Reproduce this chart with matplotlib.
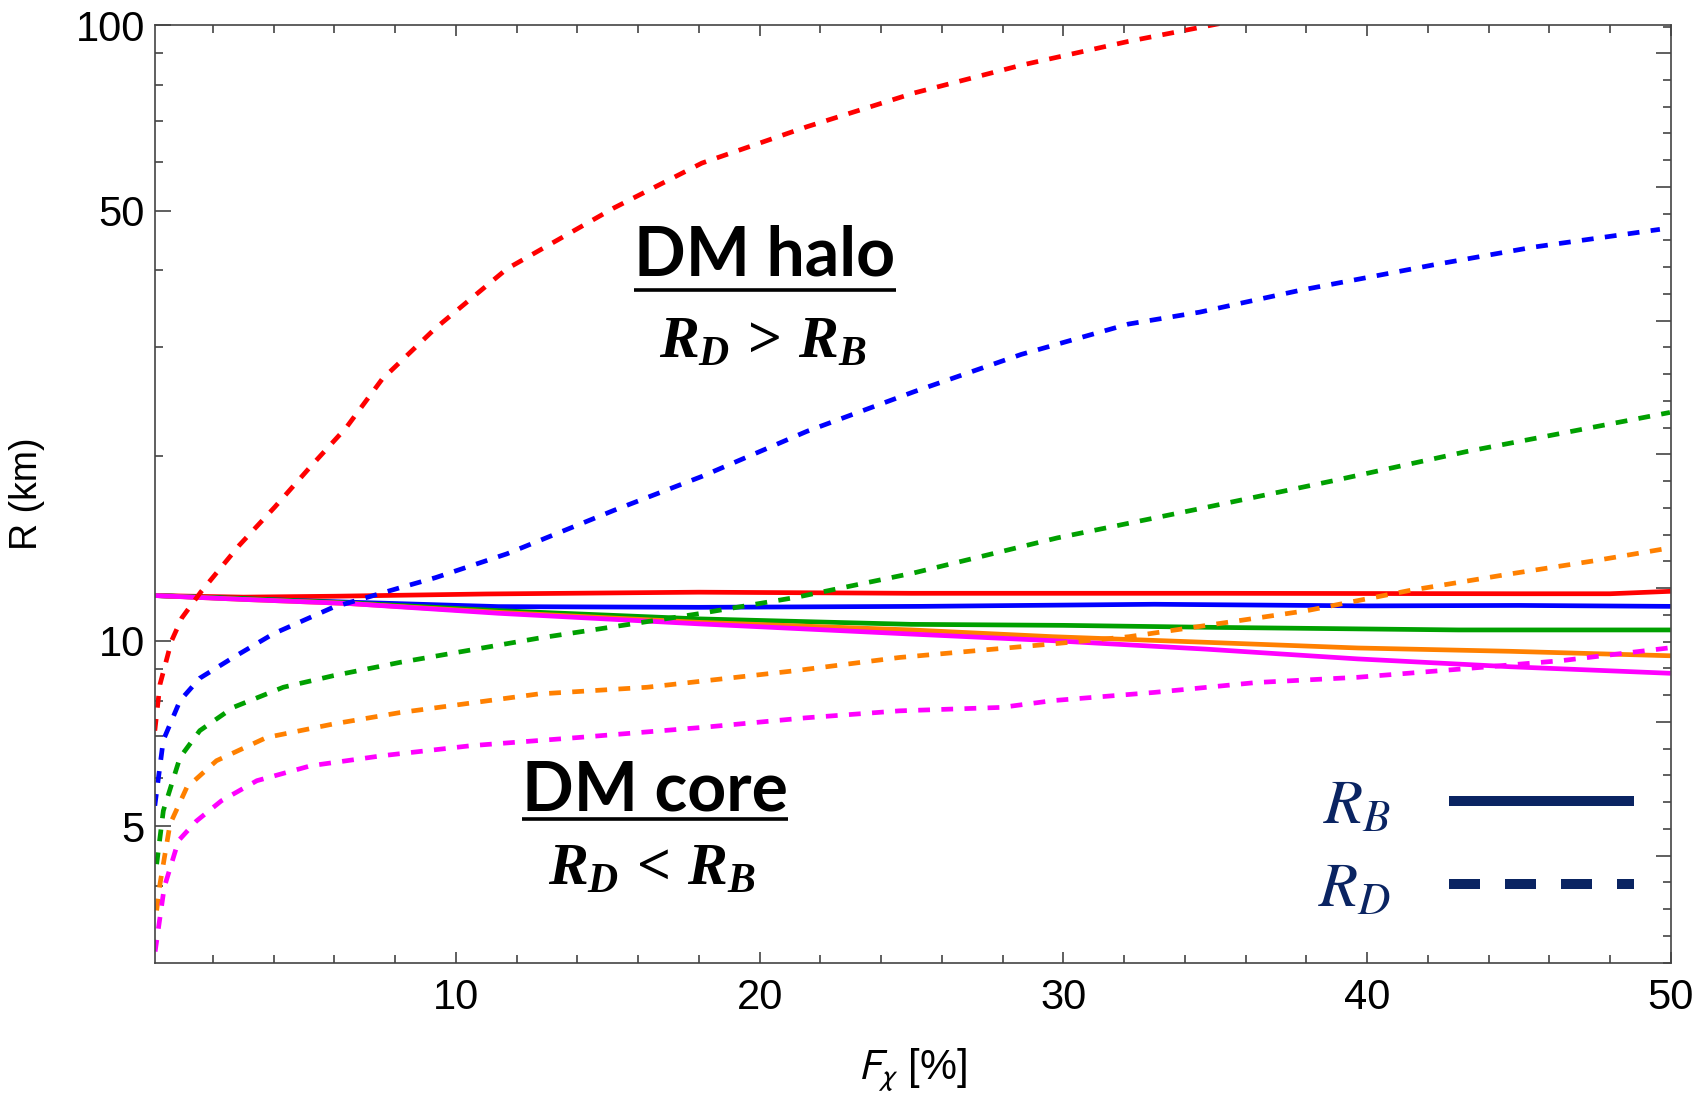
import numpy as np
import matplotlib
matplotlib.use("Agg")
import matplotlib.pyplot as plt
from matplotlib.lines import Line2D
from matplotlib.ticker import NullFormatter

# values: F_chi [%] vs R [km]
# solid = R_B, dashed = R_D
colors = ["#ff0000", "#0000ff", "#00a000", "#ff8000", "#ff00ff"]

# --- R_B (solid) ---
rb_red_x = [0.1, 3, 6, 11, 18, 25, 35, 45, 48, 50]
rb_red_y = [11.85, 11.78, 11.82, 11.92, 12.0, 11.95, 11.95, 11.93, 11.93, 12.04]
rb_blue_x = [0.1, 3, 6.5, 11.4, 18, 25.3, 33, 40, 45, 50]
rb_blue_y = [11.85, 11.7, 11.56, 11.37, 11.34, 11.38, 11.47, 11.4, 11.42, 11.38]
rb_green_x = [0.1, 3, 6.5, 11.4, 18, 25, 30, 35, 43, 50]
rb_green_y = [11.85, 11.72, 11.53, 11.2, 10.86, 10.64, 10.6, 10.52, 10.42, 10.42]
rb_orange_x = [0.1, 3, 6.5, 11.4, 18, 25, 29.65, 34.67, 39.7, 44.72, 50]
rb_orange_y = [11.85, 11.68, 11.5, 11.13, 10.72, 10.42, 10.16, 9.95, 9.74, 9.62, 9.46]
rb_magenta_x = [0.1, 3, 6.5, 11.4, 18, 25, 29.65, 34.67, 39.7, 44.72, 50]
rb_magenta_y = [11.85, 11.68, 11.5, 11.09, 10.66, 10.26, 10.01, 9.70, 9.35, 9.08, 8.86]

# --- R_D (dashed) ---
rd_red_x = [0.09, 0.26, 0.64, 0.98, 1.6, 2.87, 4.04, 5.22, 6.39, 7.57, 9.33,
            11.68, 15.21, 18.1, 21.56, 25.09, 28.62, 32.14, 34.61, 36.0]
rd_red_y = [7.15, 8.5, 10.0, 10.9, 12.0, 14.3, 16.5, 19.2, 22.2, 26.6, 32.2,
            40.2, 50.5, 59.7, 68.4, 77.6, 86.1, 94.1, 99.4, 102.5]
rd_blue_x = [0.09, 0.37, 0.92, 1.57, 2.67, 3.99, 5.96, 8.16, 9.33, 11.68, 15.21,
             18.1, 21.56, 25.09, 28.62, 32.14, 34.5, 37.79, 42.18, 45.47, 49.64]
rd_blue_y = [5.4, 6.9, 8.0, 8.7, 9.4, 10.27, 11.34, 12.2, 12.67, 13.85, 16.3,
             18.5, 21.9, 25.4, 29.2, 32.7, 34.2, 37.1, 40.8, 43.6, 46.6]
rd_green_x = [0.15, 0.37, 0.92, 1.57, 2.67, 4.32, 5.96, 8.16, 12.7, 17.94, 21.2,
              25.09, 29.8, 34.5, 38.88, 43.27, 49.97]
rd_green_y = [4.34, 5.3, 6.47, 7.15, 7.8, 8.41, 8.78, 9.23, 10.1, 11.06, 11.77,
              12.9, 14.7, 16.4, 18.2, 20.3, 23.5]
rd_orange_x = [0.15, 0.26, 0.59, 1.14, 2.12, 3.77, 5.96, 8.16, 12.7, 16.3, 21.2,
               24.6, 29.65, 32.16, 34.67, 38.02, 41.37, 44.72, 47.5, 49.75]
rd_orange_y = [3.65, 4.03, 5.04, 5.78, 6.39, 6.97, 7.33, 7.65, 8.2, 8.41, 8.95,
               9.40, 9.89, 10.16, 10.59, 11.2, 12.07, 12.85, 13.5, 14.1]
rd_magenta_x = [0.1, 0.4, 0.87, 1.46, 2.28, 3.45, 5.22, 7.57, 10.51, 14.04, 18.15,
                21.5, 24.6, 27.97, 29.65, 33.0, 36.35, 39.7, 43.05, 46.4, 49.92]
rd_magenta_y = [3.13, 3.98, 4.74, 5.10, 5.50, 5.93, 6.27, 6.51, 6.76, 6.97, 7.24,
                7.5, 7.70, 7.8, 8.0, 8.25, 8.56, 8.73, 9.0, 9.29, 9.74]

rb_curves = [(rb_red_x, rb_red_y), (rb_blue_x, rb_blue_y), (rb_green_x, rb_green_y),
             (rb_orange_x, rb_orange_y), (rb_magenta_x, rb_magenta_y)]
rd_curves = [(rd_red_x, rd_red_y), (rd_blue_x, rd_blue_y), (rd_green_x, rd_green_y),
             (rd_orange_x, rd_orange_y), (rd_magenta_x, rd_magenta_y)]

plt.rcParams["font.family"] = ["Liberation Sans", "DejaVu Sans"]
plt.rcParams["mathtext.fontset"] = "custom"
plt.rcParams["mathtext.it"] = "Liberation Serif:italic:bold"
plt.rcParams["mathtext.rm"] = "Liberation Serif:bold"
plt.rcParams["mathtext.bf"] = "Liberation Serif:bold"

fig = plt.figure(figsize=(16.98, 10.93), dpi=100)
ax = fig.add_axes([0.091, 0.119, 0.893, 0.858])

for (x, y), c in zip(rb_curves, colors):
    ax.plot(x, y, color=c, lw=3.4, solid_capstyle="butt")
for (x, y), c in zip(rd_curves, colors):
    ax.plot(x, y, color=c, lw=3.4, dashes=(2.5, 2.4))

ax.set_yscale("log")
ax.set_xlim(0.08, 50)
ax.set_ylim(3, 100)

# ticks (Mathematica style, pointing in)
ax.set_xticks([10, 20, 30, 40, 50])
ax.set_xticks([v for v in range(2, 50, 2) if v % 10], minor=True)
ax.set_yticks([5, 10, 50, 100], ["5", "10", "50", "100"])
ax.set_yticks([4, 6, 7, 8, 9, 20, 30, 40, 60, 70, 80, 90], minor=True)
ax.yaxis.set_minor_formatter(NullFormatter())
ax.tick_params(axis="both", which="both", direction="in", colors="#444444",
               labelcolor="black", labelsize=30, width=1.2, top=True, right=False)
ax.tick_params(axis="x", which="major", length=8, pad=11)
ax.tick_params(axis="x", which="minor", length=5.5)
ax.tick_params(axis="y", which="major", length=11.5, pad=7)
ax.tick_params(axis="y", which="minor", length=5.5)
for s in ax.spines.values():
    s.set_color("#444444")
    s.set_linewidth(1.2)

# right frame: ticks linear in ln(R)
ax2 = ax.twinx()
ax2.set_ylim(np.log(3), np.log(100))
ax2.set_yticks(np.arange(1.5, 4.6, 0.5))
ax2.set_yticks(np.arange(1.1, 4.61, 0.1), minor=True)
ax2.tick_params(axis="y", which="both", direction="in", colors="#444444",
                labelright=False, width=1.2)
ax2.tick_params(axis="y", which="major", length=11)
ax2.tick_params(axis="y", which="minor", length=5.5)
for s in ax2.spines.values():
    s.set_visible(False)

ax.set_xlabel(r"$F_\chi$ [%]", fontsize=30, labelpad=20, math_fontfamily="stixsans")
ax.set_ylabel("R (km)", fontsize=27, labelpad=22)

# annotations
t1 = ax.text(0.4026, 0.7326, "DM halo", transform=ax.transAxes, ha="center",
             va="baseline", fontsize=49, fontweight="bold", family="Lato")
ax.text(0.4013, 0.645, r"$R_D\,>\,R_B$", transform=ax.transAxes, ha="center",
        va="baseline", fontsize=43)
t2 = ax.text(0.330, 0.163, "DM core", transform=ax.transAxes, ha="center",
             va="baseline", fontsize=49, fontweight="bold", family="Lato")
ax.text(0.328, 0.083, r"$R_D\,<\,R_B$", transform=ax.transAxes, ha="center",
        va="baseline", fontsize=43)

fig.canvas.draw()
inv = ax.transAxes.inverted()
for t, yu in [(t1, 0.7177), (t2, 0.1536)]:
    bb = t.get_window_extent()
    x0 = inv.transform((bb.x0, 0))[0]
    x1 = inv.transform((bb.x1, 0))[0]
    ax.plot([x0, x1], [yu, yu], color="black", lw=2.6, transform=ax.transAxes,
            clip_on=False, solid_capstyle="butt")

navy = "#0a2462"
handles = [Line2D([], [], color=navy, lw=7.2, solid_capstyle="butt"),
           Line2D([], [], color=navy, lw=7.2, dashes=(3.1, 2.5))]
leg = ax.legend(handles, [r"$R_B$", r"$R_D$"], loc="lower right",
                bbox_to_anchor=(0.9756, 0.046), frameon=False, markerfirst=False,
                fontsize=46, handlelength=2.9, handletextpad=0.9,
                labelspacing=0.37, borderpad=0, borderaxespad=0, labelcolor=navy)
for t in leg.get_texts():
    t.set_math_fontfamily("stix")

fig.savefig("out.png", dpi=100)
